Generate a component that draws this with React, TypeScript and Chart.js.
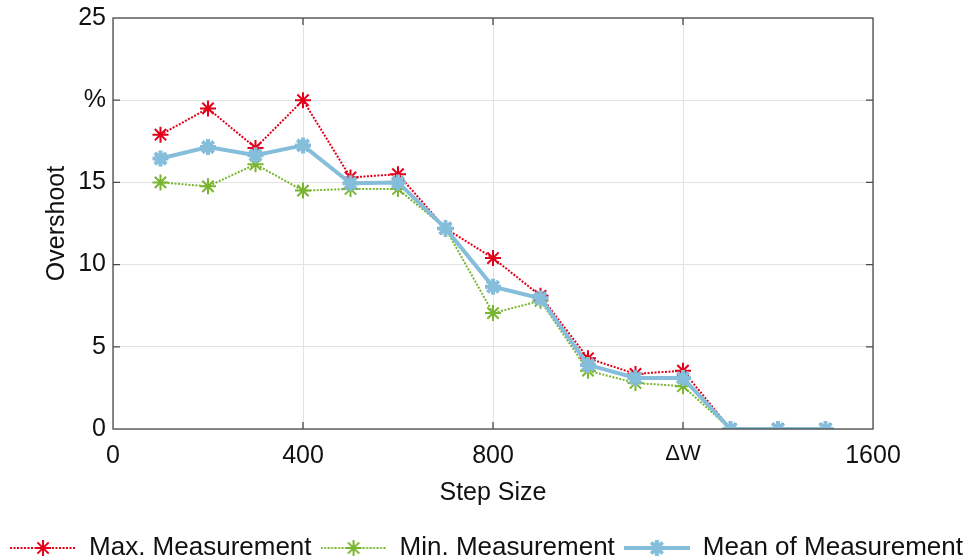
import React, { useEffect, useRef } from "react";
import { Chart, registerables } from "chart.js";

Chart.register(...registerables);

const stepSizes = [100, 200, 300, 400, 500, 600, 700, 800, 900, 1000, 1100, 1200, 1300, 1400, 1500];
const maxMeasurement = [17.9, 19.5, 17.1, 20.0, 15.3, 15.5, 12.2, 10.4, 8.1, 4.3, 3.35, 3.55, 0, 0, 0];
const minMeasurement = [15.0, 14.76, 16.1, 14.5, 14.6, 14.6, 12.2, 7.05, 7.8, 3.55, 2.8, 2.6, 0, 0, 0];
const meanMeasurement = [16.45, 17.15, 16.65, 17.25, 14.95, 15.0, 12.2, 8.65, 7.95, 3.9, 3.1, 3.1, 0, 0, 0];

const seriesLabels = ["Max. Measurement", "Min. Measurement", "Mean of Measurement"];
const xTickLabels: Record<number, string> = { 0: "0", 400: "400", 800: "800", 1200: "\u0394W", 1600: "1600" };
const yTickLabels: Record<number, string> = { 0: "0", 5: "5", 10: "10", 15: "15", 20: "%", 25: "25" };

const RED = "#e2001a";
const GREEN = "#79b52f";
const BLUE = "#84bedb";
const FONT = "'Liberation Sans', Arial, Helvetica, sans-serif";

function drawStar(ctx: CanvasRenderingContext2D, x: number, y: number, r: number) {
  ctx.beginPath();
  for (let i = 0; i < 4; i++) {
    const a = (i * Math.PI) / 4;
    ctx.moveTo(x - Math.cos(a) * r, y - Math.sin(a) * r);
    ctx.lineTo(x + Math.cos(a) * r, y + Math.sin(a) * r);
  }
  ctx.stroke();
}

function legendImage(color: string, dashed: boolean, lw: number, starLw: number, r: number) {
  const c = document.createElement("canvas");
  c.width = 66;
  c.height = 24;
  const ctx = c.getContext("2d")!;
  ctx.strokeStyle = color;
  ctx.lineWidth = lw;
  ctx.setLineDash(dashed ? [2, 1.5] : []);
  ctx.beginPath();
  ctx.moveTo(0, 12);
  ctx.lineTo(66, 12);
  ctx.stroke();
  ctx.setLineDash([]);
  ctx.lineWidth = starLw;
  drawStar(ctx, 33, 12, r);
  return c;
}

const boxPlugin = {
  id: "matlabBox",
  afterDraw(chart: any) {
    const { ctx, chartArea } = chart;
    const { left, right, top, bottom } = chartArea;
    const xs = chart.scales.x;
    const ys = chart.scales.y;
    ctx.save();
    ctx.strokeStyle = "#4a4a4a";
    ctx.lineWidth = 1.3;
    ctx.strokeRect(left, top, right - left, bottom - top);
    const L = 7;
    ctx.beginPath();
    [400, 800, 1200].forEach((v) => {
      const px = xs.getPixelForValue(v);
      ctx.moveTo(px, bottom);
      ctx.lineTo(px, bottom - L);
      ctx.moveTo(px, top);
      ctx.lineTo(px, top + L);
    });
    [5, 10, 15, 20].forEach((v) => {
      const py = ys.getPixelForValue(v);
      ctx.moveTo(left, py);
      ctx.lineTo(left + L, py);
      ctx.moveTo(right, py);
      ctx.lineTo(right - L, py);
    });
    ctx.stroke();
    ctx.restore();
  },
};

export default function App() {
  const ref = useRef<HTMLCanvasElement>(null);
  useEffect(() => {
    document.body.style.margin = "0";
    const toPts = (arr: number[]) => arr.map((v, i) => ({ x: stepSizes[i], y: v }));
    const images = [
      legendImage(RED, true, 2, 2, 8),
      legendImage(GREEN, true, 2, 2, 8),
      legendImage(BLUE, false, 4, 4, 8),
    ];
    const chart = new Chart(ref.current!, {
      type: "line",
      data: {
        datasets: [
          {
            label: seriesLabels[0],
            data: toPts(maxMeasurement),
            borderColor: RED,
            backgroundColor: RED,
            borderWidth: 2,
            borderDash: [2, 1.5],
            pointStyle: "star",
            pointRadius: 8,
            pointBorderWidth: 2,
            pointBorderColor: RED,
            order: 1,
          },
          {
            label: seriesLabels[1],
            data: toPts(minMeasurement),
            borderColor: GREEN,
            backgroundColor: GREEN,
            borderWidth: 2,
            borderDash: [2, 1.5],
            pointStyle: "star",
            pointRadius: 8,
            pointBorderWidth: 2,
            pointBorderColor: GREEN,
            order: 2,
          },
          {
            label: seriesLabels[2],
            data: toPts(meanMeasurement),
            borderColor: BLUE,
            backgroundColor: BLUE,
            borderWidth: 4,
            pointStyle: "star",
            pointRadius: 8,
            pointBorderWidth: 4,
            pointBorderColor: BLUE,
            order: 0,
          },
        ] as any,
      },
      options: {
        animation: false,
        responsive: false,
        devicePixelRatio: 1,
        layout: { padding: { left: 0, right: 0, top: 18, bottom: -11 } },
        scales: {
          x: {
            type: "linear",
            min: 0,
            max: 1600,
            grid: { color: "#e2e2e2", drawTicks: false, lineWidth: 1 },
            border: { display: false },
            ticks: {
              stepSize: 400,
              padding: 12,
              color: "#111",
              maxRotation: 0,
              autoSkip: false,
              font: (c: any) =>
                c.tick && c.tick.value === 1200
                  ? { family: FONT, size: 22 }
                  : { family: FONT, size: 25 },
              callback: (v: any) => xTickLabels[v as number] ?? "",
            },
            title: {
              display: true,
              text: "Step Size",
              color: "#111",
              font: { family: FONT, size: 25 },
              padding: { top: 0, bottom: 18 },
            },
            afterFit: (s: any) => {
              s.height = 97;
              s.paddingLeft = 0;
              s.paddingRight = 0;
            },
          },
          y: {
            min: 0,
            max: 25,
            grid: { color: "#e2e2e2", drawTicks: false, lineWidth: 1 },
            border: { display: false },
            ticks: {
              stepSize: 5,
              padding: 7,
              color: "#111",
              font: { family: FONT, size: 25 },
              callback: (v: any) => yTickLabels[v as number] ?? "",
            },
            title: {
              display: true,
              text: "Overshoot",
              color: "#111",
              font: { family: FONT, size: 25 },
              padding: { top: 42, bottom: 0 },
            },
            afterFit: (s: any) => {
              s.width = 113;
              s.paddingTop = 0;
              s.paddingBottom = 0;
            },
          },
          yRight: {
            position: "right",
            min: 0,
            max: 25,
            grid: { display: false },
            border: { display: false },
            ticks: { display: false },
            afterFit: (s: any) => {
              s.width = 100;
              s.paddingTop = 0;
              s.paddingBottom = 0;
            },
          },
        },
        plugins: {
          legend: {
            position: "bottom",
            labels: {
              usePointStyle: true,
              pointStyleWidth: 66,
              padding: 9,
              color: "#111",
              font: { family: FONT, size: 26 },
              generateLabels: (ch: any) =>
                ch.data.datasets.map((d: any, i: number) => ({
                  text: d.label,
                  pointStyle: images[i],
                  fillStyle: d.borderColor,
                  strokeStyle: d.borderColor,
                  lineWidth: 0,
                  hidden: false,
                  datasetIndex: i,
                  fontColor: "#111",
                })),
            },
          },
          tooltip: { enabled: false },
        },
      } as any,
      plugins: [boxPlugin],
    });
    return () => chart.destroy();
  }, []);
  return (
    <div style={{ width: 973, height: 560 }}>
      <canvas ref={ref} width={973} height={560} style={{ width: 973, height: 560, display: "block" }} />
    </div>
  );
}
